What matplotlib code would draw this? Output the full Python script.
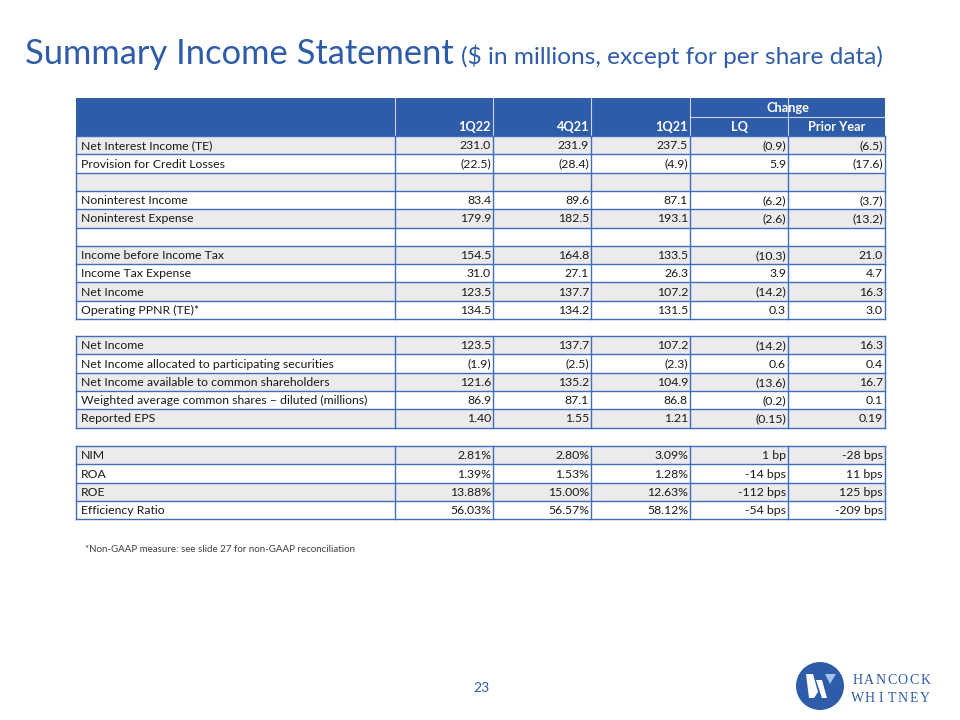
import matplotlib

matplotlib.use("Agg")
import matplotlib.pyplot as plt
from matplotlib.patches import Rectangle, Circle, Polygon

# ---- table data -------------------------------------------------------
columns = ["1Q22", "4Q21", "1Q21", "LQ", "Prior Year"]

labels_ops = ["Net Interest Income (TE)", "Provision for Credit Losses", "",
              "Noninterest Income", "Noninterest Expense", "",
              "Income before Income Tax", "Income Tax Expense", "Net Income",
              "Operating PPNR (TE)*"]
q1_22_ops = ["231.0", "(22.5)", "", "83.4", "179.9", "", "154.5", "31.0", "123.5", "134.5"]
q4_21_ops = ["231.9", "(28.4)", "", "89.6", "182.5", "", "164.8", "27.1", "137.7", "134.2"]
q1_21_ops = ["237.5", "(4.9)", "", "87.1", "193.1", "", "133.5", "26.3", "107.2", "131.5"]
lq_ops = ["(0.9)", "5.9", "", "(6.2)", "(2.6)", "", "(10.3)", "3.9", "(14.2)", "0.3"]
py_ops = ["(6.5)", "(17.6)", "", "(3.7)", "(13.2)", "", "21.0", "4.7", "16.3", "3.0"]

labels_eps = ["Net Income", "Net Income allocated to participating securities",
              "Net Income available to common shareholders",
              "Weighted average common shares \u2013 diluted (millions)", "Reported EPS"]
q1_22_eps = ["123.5", "(1.9)", "121.6", "86.9", "1.40"]
q4_21_eps = ["137.7", "(2.5)", "135.2", "87.1", "1.55"]
q1_21_eps = ["107.2", "(2.3)", "104.9", "86.8", "1.21"]
lq_eps = ["(14.2)", "0.6", "(13.6)", "(0.2)", "(0.15)"]
py_eps = ["16.3", "0.4", "16.7", "0.1", "0.19"]

labels_ratio = ["NIM", "ROA", "ROE", "Efficiency Ratio"]
q1_22_ratio = ["2.81%", "1.39%", "13.88%", "56.03%"]
q4_21_ratio = ["2.80%", "1.53%", "15.00%", "56.57%"]
q1_21_ratio = ["3.09%", "1.28%", "12.63%", "58.12%"]
lq_ratio = ["1 bp", "-14 bps", "-112 bps", "-54 bps"]
py_ratio = ["-28 bps", "11 bps", "125 bps", "-209 bps"]

# ---- styling ----------------------------------------------------------
BLUE = "#2E5CA8"
LINE = "#3F6DC0"
GRAY = "#EBEBEB"
TXT = "#1A1A1A"
FS = 8.8
plt.rcParams["font.family"] = ["Lato", "DejaVu Sans"]

fig = plt.figure(figsize=(9.6, 7.2), dpi=100)
ax = fig.add_axes([0, 0, 1, 1])
ax.set_xlim(0, 960)
ax.set_ylim(720, 0)
ax.axis("off")

col_x = [76, 395, 493, 591, 690, 788, 885]
row_h = 18.3

# title
t = ax.text(25, 64, "Summary Income Statement", fontsize=24.8, color=BLUE,
            va="baseline", ha="left")
fig.canvas.draw()
bb = t.get_window_extent()
ax.text(bb.x1 + 7, 64, "($ in millions, except for per share data)", fontsize=17.6,
        color=BLUE, va="baseline", ha="left")

# header
top, mid, hdr_bot = 98, 117, 136
ax.add_patch(Rectangle((col_x[0], top), col_x[-1] - col_x[0], hdr_bot - top,
                       facecolor=BLUE, edgecolor="none"))
for x in col_x[1:-1]:
    ax.plot([x, x], [top, hdr_bot], color="#C9D5EC", lw=0.8)
ax.plot([col_x[4], col_x[6]], [mid, mid], color="#C9D5EC", lw=0.8)
ax.text((col_x[4] + col_x[6]) / 2, 112, "Change", color="white",
        fontsize=FS + 0.4, fontweight="bold", ha="center", va="baseline")
for i, name in enumerate(columns):
    left, right = col_x[i + 1], col_x[i + 2]
    if i < 3:
        ax.text(right - 2, 131, name, color="white", fontsize=FS + 0.4,
                fontweight="bold", ha="right", va="baseline")
    else:
        ax.text((left + right) / 2, 131, name, color="white",
                fontsize=FS + 0.4, fontweight="bold", ha="center", va="baseline")

sections = [
    (136, labels_ops, [q1_22_ops, q4_21_ops, q1_21_ops, lq_ops, py_ops]),
    (336, labels_eps, [q1_22_eps, q4_21_eps, q1_21_eps, lq_eps, py_eps]),
    (446, labels_ratio, [q1_22_ratio, q4_21_ratio, q1_21_ratio, lq_ratio, py_ratio]),
]

for y0, labels, cols in sections:
    n = len(labels)
    for r, lab in enumerate(labels):
        y = y0 + r * row_h
        if r % 2 == 0:
            ax.add_patch(Rectangle((col_x[0], y), col_x[-1] - col_x[0], row_h,
                                   facecolor=GRAY, edgecolor="none"))
        ax.text(col_x[0] + 5, y + 13.3, lab, fontsize=FS, color=TXT,
                ha="left", va="baseline")
        for c, vals in enumerate(cols):
            ax.text(col_x[c + 2] - 2, y + 13.3, vals[r], fontsize=FS,
                    color=TXT, ha="right", va="baseline")
    y1 = y0 + n * row_h
    for r in range(n + 1):
        yy = y0 + r * row_h
        ax.plot([col_x[0], col_x[-1]], [yy, yy], color=LINE, lw=1.0)
    for x in col_x:
        ax.plot([x, x], [y0, y1], color=LINE, lw=1.0)

# footnote
ax.text(85, 552, "*Non-GAAP measure: see slide 27 for non-GAAP reconciliation",
        fontsize=7.05, color="#404040", ha="left", va="baseline")

# page number
ax.text(481, 692, "23", fontsize=10, color=BLUE, ha="center", va="baseline")

# logo
ax.add_patch(Circle((820, 686), 24, facecolor=BLUE, edgecolor="none"))
ax.add_patch(Polygon([(806, 674), (813, 674), (818, 692), (814, 698), (809, 698)],
                     closed=True, facecolor="white", edgecolor="none"))
ax.add_patch(Polygon([(816, 680), (822, 680), (827, 698), (822, 698)],
                     closed=True, facecolor="white", edgecolor="none"))
ax.add_patch(Polygon([(825, 674), (836, 674), (830, 684)],
                     closed=True, facecolor="#9FC3EA", edgecolor="none"))
for word, yb in (("HANCOCK", 684), ("WHITNEY", 702)):
    for k, ch in enumerate(word):
        ax.text(858 + k * 11.2, yb, ch, fontsize=10, color=BLUE, ha="center",
                va="baseline", family=["Liberation Serif", "DejaVu Serif"])

fig.savefig("out.png", dpi=100)
